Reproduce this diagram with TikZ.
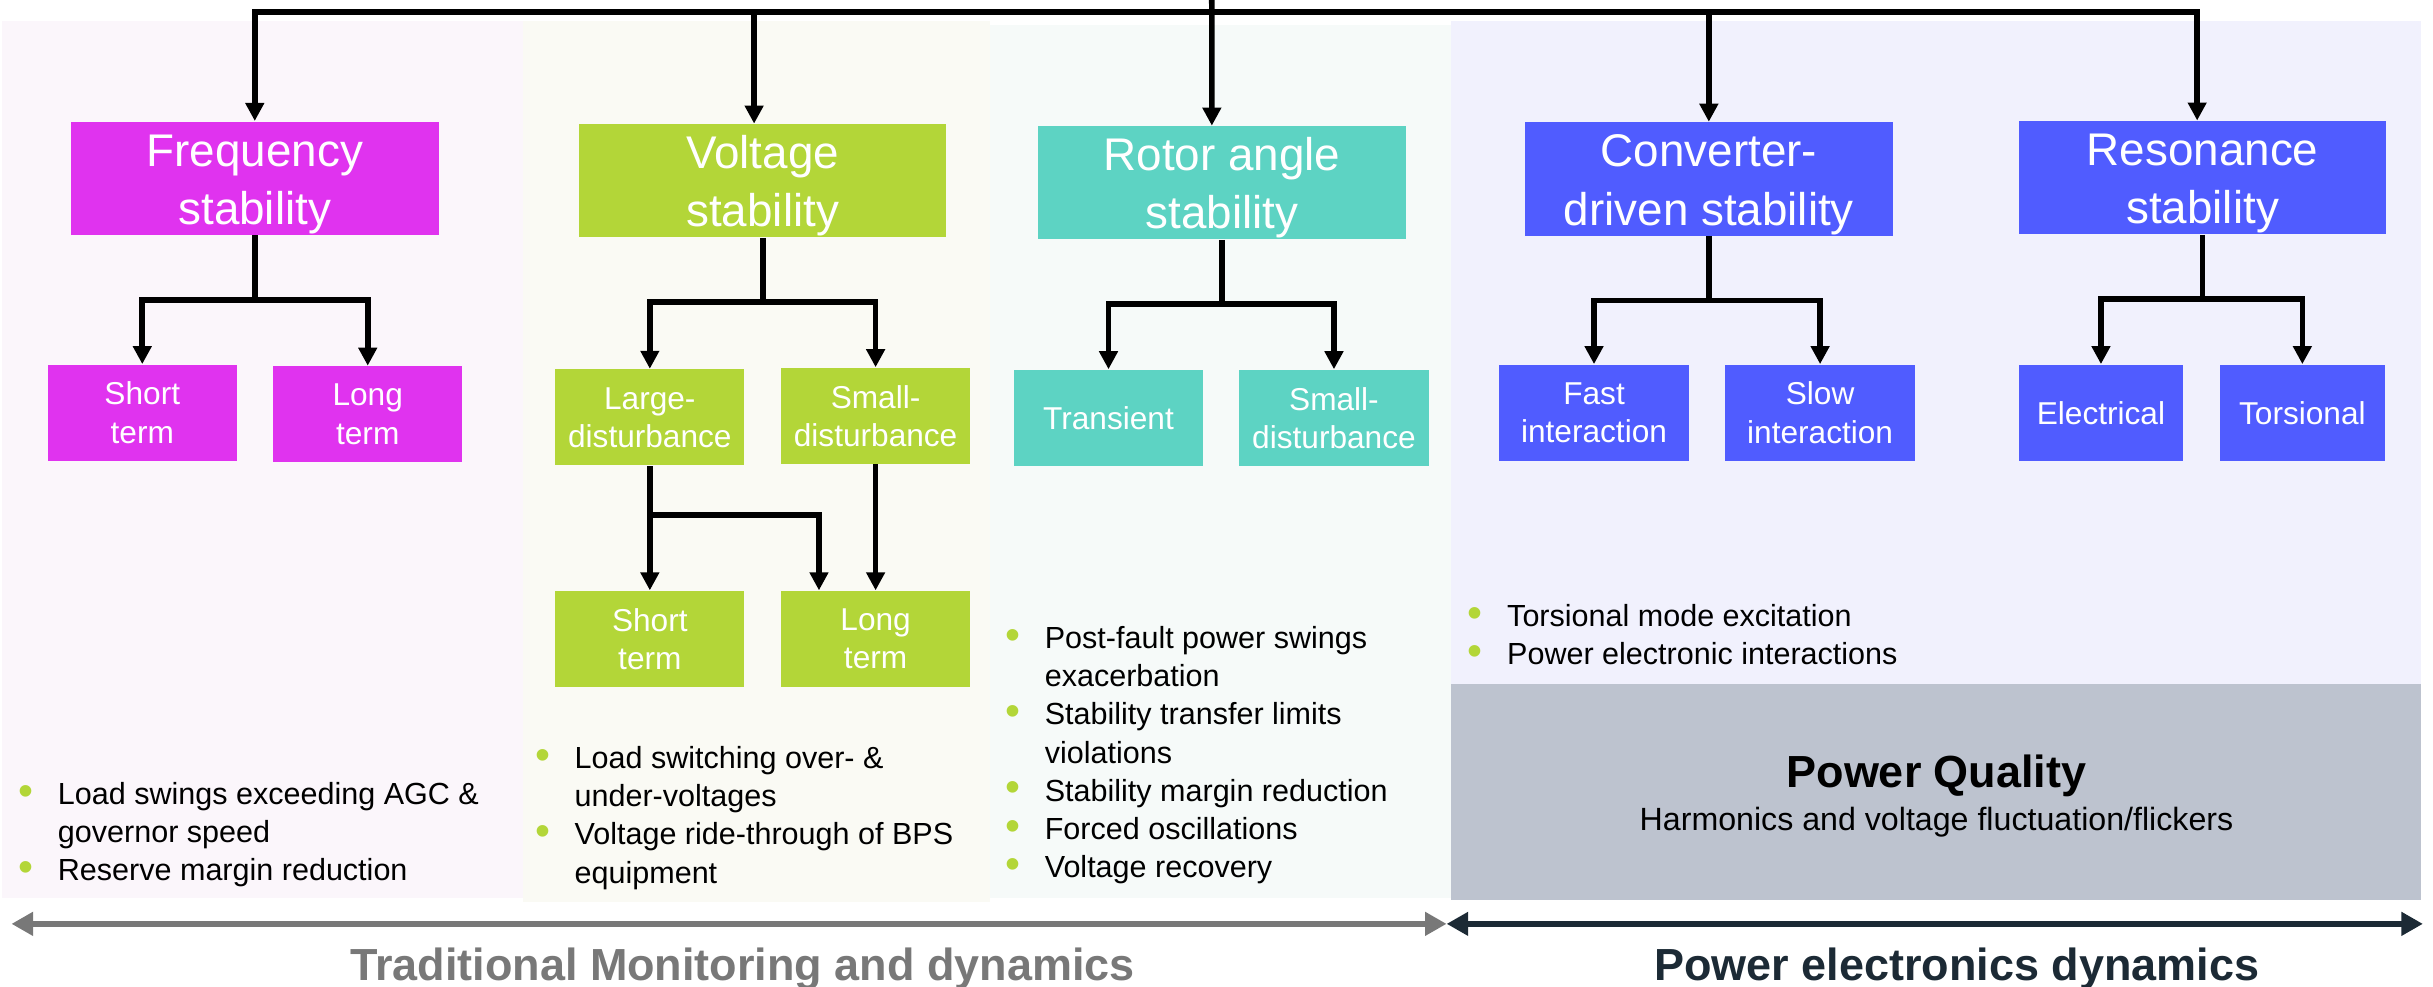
\documentclass[tikz,border=0pt]{standalone}
\usepackage{fontspec}
\setmainfont{Liberation Sans}
\usetikzlibrary{arrows.meta,positioning}

\definecolor{freqpink}{HTML}{E033EF}
\definecolor{voltlime}{HTML}{B3D638}
\definecolor{rotorteal}{HTML}{5DD3C3}
\definecolor{convblue}{HTML}{505CFF}
\definecolor{bgpink}{HTML}{FBF6FB}
\definecolor{bgcream}{HTML}{FAFAF4}
\definecolor{bgteal}{HTML}{F6FAF9}
\definecolor{bgblue}{HTML}{F1F1FD}
\definecolor{pqgray}{HTML}{BDC3CF}
\definecolor{tradgray}{HTML}{787878}
\definecolor{pedark}{HTML}{1C2A35}

\newcommand{\bul}{\makebox[0.5cm][l]{\hspace{-0.01cm}\raisebox{-0.02em}{\textcolor{voltlime}{\scalebox{1.4}{\textbullet}}}}}
\newcommand{\topstrut}{\rule{0pt}{16pt}}

\tikzset{
  mainbox/.style={fill=#1, text=white, minimum width=4.74cm, minimum height=1.46cm,
    inner sep=0pt, align=center, font=\fontsize{16.8}{21.3}\selectfont},
  subbox/.style={fill=#1, text=white, minimum width=2.44cm, minimum height=1.24cm,
    inner sep=0pt, align=center, font=\fontsize{11.6}{14}\selectfont},
  link/.style={line width=2.1pt, -{Triangle[width=6.6pt,length=6.6pt]}},
  notes/.style={anchor=base west, inner sep=0pt, font=\fontsize{11.2}{14}\selectfont},
  spanarrow/.style={line width=2.4pt, {Triangle[width=8.3pt,length=7.9pt]}-{Triangle[width=8.3pt,length=7.9pt]}},
}

\begin{document}
\begin{tikzpicture}[x=0.02cm, y=-0.02cm]
  \useasboundingbox (0,0) rectangle (1568,636);
  % background panels
  \fill[bgpink]  (1,13.3) rectangle (337,579);
  \fill[bgcream] (337,13.3) rectangle (637.7,581.5);
  \fill[bgteal]  (637.7,16) rectangle (935,579);
  \fill[bgblue]  (935,13.3) rectangle (1560,441);
  \fill[pqgray]  (935,441) rectangle (1560,580);

  % main categories
  \node[mainbox=freqpink]  (freq)  at (164.2,114.8)  {\topstrut Frequency\\stability};
  \node[mainbox=voltlime]  (volt)  at (491.5,116.5)  {\topstrut Voltage\\stability};
  \node[mainbox=rotorteal] (rotor) at (787.5,117.8)  {\topstrut Rotor angle\\stability};
  \node[mainbox=convblue]  (conv)  at (1101.3,115.3) {\topstrut Converter-\\driven stability};
  \node[mainbox=convblue]  (reso)  at (1419.5,114.5) {\topstrut Resonance\\stability};

  % sub categories
  \node[subbox=freqpink]  (fshort) at (91.7,266)   {Short\\term};
  \node[subbox=freqpink]  (flong)  at (237,267)    {Long\\term};
  \node[subbox=voltlime]  (vlarge) at (418.8,269)  {Large-\\disturbance};
  \node[subbox=voltlime]  (vsmall) at (564.3,268)  {Small-\\disturbance};
  \node[subbox=voltlime]  (vshort) at (418.8,411.8) {Short\\term};
  \node[subbox=voltlime]  (vlong)  at (564.3,411.8) {Long\\term};
  \node[subbox=rotorteal] (rtrans) at (714.4,269.3) {Transient};
  \node[subbox=rotorteal] (rsmall) at (859.7,269.3) {Small-\\disturbance};
  \node[subbox=convblue]  (cfast)  at (1027.3,266) {Fast\\interaction};
  \node[subbox=convblue]  (cslow)  at (1173,266)   {Slow\\interaction};
  \node[subbox=convblue, minimum width=2.12cm] (relec) at (1354,266)   {Electrical};
  \node[subbox=convblue, minimum width=2.12cm] (rtors) at (1483.8,266) {Torsional};

  % define point
  \coordinate (root) at (781,0);
  \coordinate (bus)  at (781,7.5);
  % top connectors
  \draw[link] (bus) -| (freq.north);
  \draw[link] (bus) -| ([xshift=-0.11cm]volt.north);
  \draw[link] (root) -- ([xshift=-0.13cm]rotor.north);
  \draw[link] (bus) -| (conv.north);
  \draw[link] (bus) -| ([xshift=-0.07cm]reso.north);

  % branch connectors
  \draw[link] (freq.south) -- ++(0,41.5) -| (fshort.north);
  \draw[link] (freq.south) ++(0,41.5) -| (flong.north);
  \draw[link] (volt.south) -- ++(0,41.5) -| (vlarge.north);
  \draw[link] (volt.south) ++(0,41.5) -| (vsmall.north);
  \draw[link] (rotor.south) -- ++(0,41.5) -| (rtrans.north);
  \draw[link] (rotor.south) ++(0,41.5) -| (rsmall.north);
  \draw[link] (conv.south) -- ++(0,41.5) -| (cfast.north);
  \draw[link] (conv.south) ++(0,41.5) -| (cslow.north);
  \draw[link] (reso.south) -- ++(0,41.5) -| (relec.north);
  \draw[link] (reso.south) ++(0,41.5) -| (rtors.north);
  \draw[link] (vlarge.south) -- (vshort.north);
  \draw[link] (vlarge.south) ++(0,31.5) -| ([xshift=-0.73cm]vlong.north);
  \draw[link] (vsmall.south) -- (vlong.north);

  % phenomena lists
  \node[notes] (fnotes) at (12,518.5) {\begin{tabular}[t]{@{}l@{}l@{}}
    \bul & Load swings exceeding AGC \&\\
         & governor speed\\
    \bul & Reserve margin reduction
  \end{tabular}};
  \node[notes] (vnotes) at (345,495.3) {\begin{tabular}[t]{@{}l@{}l@{}}
    \bul & Load switching over- \&\\
         & under-voltages\\
    \bul & Voltage ride-through of BPS\\
         & equipment
  \end{tabular}};
  \node[notes] (rnotes) at (648,418) {\begin{tabular}[t]{@{}l@{}l@{}}
    \bul & Post-fault power swings\\
         & exacerbation\\
    \bul & Stability transfer limits\\
         & violations\\
    \bul & Stability margin reduction\\
    \bul & Forced oscillations\\
    \bul & Voltage recovery
  \end{tabular}};
  \node[notes] (cnotes) at (946,403.7) {\begin{tabular}[t]{@{}l@{}l@{}}
    \bul & Torsional mode excitation\\
    \bul & Power electronic interactions
  \end{tabular}};

  % power quality
  \node[anchor=base, font=\bfseries\fontsize{16.5}{20}\selectfont] (pqtitle) at (1248,507.4) {Power Quality};
  \node[anchor=base, font=\fontsize{11.8}{14}\selectfont] (pqsub) at (1248,535) {Harmonics and voltage fluctuation/flickers};

  % dynamics axis
  \coordinate (axleft)  at (7.4,595.4);
  \coordinate (axmid)   at (932.3,595.4);
  \coordinate (axright) at (1561.5,595.4);
  \draw[spanarrow, tradgray] (axleft) -- (axmid);
  \draw[spanarrow, pedark] (axmid) -- (axright);
  \node[anchor=base, text=tradgray, font=\bfseries\fontsize{16.5}{20}\selectfont] (tradlbl) at (478.5,631.6) {Traditional Monitoring and dynamics};
  \node[anchor=base, text=pedark, font=\bfseries\fontsize{16.5}{20}\selectfont] (pelbl) at (1261,631.6) {Power electronics dynamics};
\end{tikzpicture}
\end{document}
